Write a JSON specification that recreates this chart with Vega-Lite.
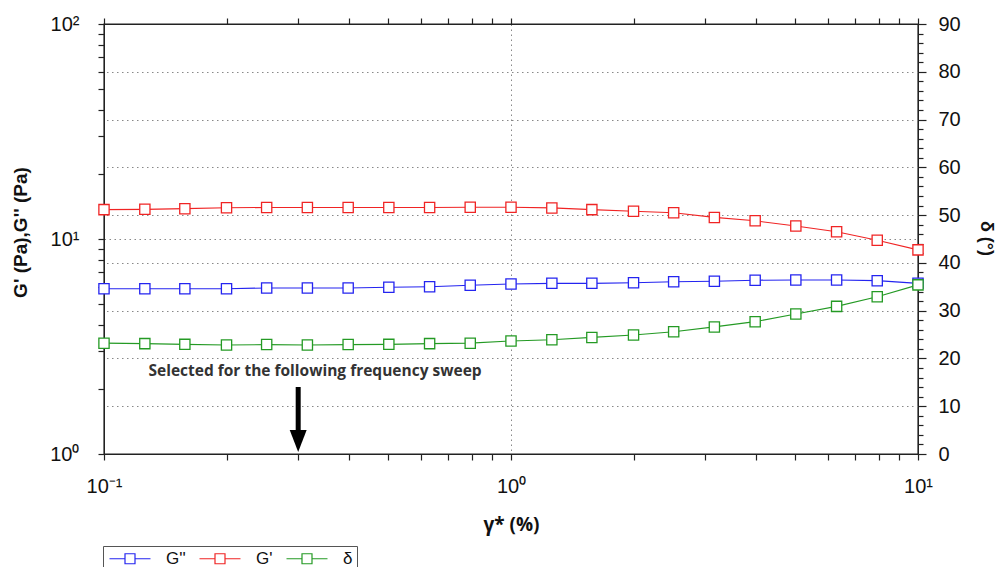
{
  "$schema": "https://vega.github.io/schema/vega-lite/v6.json",
  "width": 814,
  "height": 430,
  "autosize": {"type": "none"},
  "padding": {"left": 104, "top": 24, "right": 78, "bottom": 113},
  "background": "white",
  "config": {
    "view": {"stroke": "#222", "strokeWidth": 1.4},
    "axis": {
      "domainColor": "#222",
      "tickColor": "#222",
      "tickWidth": 1.2,
      "gridColor": "#888",
      "gridDash": [1.5, 3.5],
      "gridWidth": 1,
      "labelFont": "Liberation Sans",
      "labelFontSize": 20,
      "labelColor": "#111",
      "titleColor": "#111"
    }
  },
  "datasets": {
    "curves": [
      {"x": 0.1, "series": "G''", "value": 5.87},
      {"x": 0.126, "series": "G''", "value": 5.87},
      {"x": 0.158, "series": "G''", "value": 5.87},
      {"x": 0.2, "series": "G''", "value": 5.87},
      {"x": 0.251, "series": "G''", "value": 5.92},
      {"x": 0.316, "series": "G''", "value": 5.92},
      {"x": 0.398, "series": "G''", "value": 5.92},
      {"x": 0.501, "series": "G''", "value": 5.96},
      {"x": 0.631, "series": "G''", "value": 6.0},
      {"x": 0.794, "series": "G''", "value": 6.09},
      {"x": 1, "series": "G''", "value": 6.18},
      {"x": 1.26, "series": "G''", "value": 6.22},
      {"x": 1.58, "series": "G''", "value": 6.22},
      {"x": 2, "series": "G''", "value": 6.26},
      {"x": 2.51, "series": "G''", "value": 6.33},
      {"x": 3.16, "series": "G''", "value": 6.36},
      {"x": 3.98, "series": "G''", "value": 6.43},
      {"x": 5.01, "series": "G''", "value": 6.45},
      {"x": 6.31, "series": "G''", "value": 6.45},
      {"x": 7.94, "series": "G''", "value": 6.4},
      {"x": 10, "series": "G''", "value": 6.22},
      {"x": 0.1, "series": "G'", "value": 13.7},
      {"x": 0.126, "series": "G'", "value": 13.74},
      {"x": 0.158, "series": "G'", "value": 13.84},
      {"x": 0.2, "series": "G'", "value": 13.98},
      {"x": 0.251, "series": "G'", "value": 14.01},
      {"x": 0.316, "series": "G'", "value": 14.01},
      {"x": 0.398, "series": "G'", "value": 14.01},
      {"x": 0.501, "series": "G'", "value": 14.01},
      {"x": 0.631, "series": "G'", "value": 14.01},
      {"x": 0.794, "series": "G'", "value": 14.05},
      {"x": 1, "series": "G'", "value": 14.05},
      {"x": 1.26, "series": "G'", "value": 13.95},
      {"x": 1.58, "series": "G'", "value": 13.7},
      {"x": 2, "series": "G'", "value": 13.45},
      {"x": 2.51, "series": "G'", "value": 13.25},
      {"x": 3.16, "series": "G'", "value": 12.6},
      {"x": 3.98, "series": "G'", "value": 12.15},
      {"x": 5.01, "series": "G'", "value": 11.5},
      {"x": 6.31, "series": "G'", "value": 10.8},
      {"x": 7.94, "series": "G'", "value": 9.87},
      {"x": 10, "series": "G'", "value": 8.9},
      {"x": 0.1, "series": "δ", "value": 23.2},
      {"x": 0.126, "series": "δ", "value": 23.1},
      {"x": 0.158, "series": "δ", "value": 22.95},
      {"x": 0.2, "series": "δ", "value": 22.8},
      {"x": 0.251, "series": "δ", "value": 22.9},
      {"x": 0.316, "series": "δ", "value": 22.8},
      {"x": 0.398, "series": "δ", "value": 22.9},
      {"x": 0.501, "series": "δ", "value": 22.95},
      {"x": 0.631, "series": "δ", "value": 23.1},
      {"x": 0.794, "series": "δ", "value": 23.2},
      {"x": 1, "series": "δ", "value": 23.65},
      {"x": 1.26, "series": "δ", "value": 23.9},
      {"x": 1.58, "series": "δ", "value": 24.4},
      {"x": 2, "series": "δ", "value": 24.9},
      {"x": 2.51, "series": "δ", "value": 25.6},
      {"x": 3.16, "series": "δ", "value": 26.6},
      {"x": 3.98, "series": "δ", "value": 27.7},
      {"x": 5.01, "series": "δ", "value": 29.3},
      {"x": 6.31, "series": "δ", "value": 30.9},
      {"x": 7.94, "series": "δ", "value": 32.9},
      {"x": 10, "series": "δ", "value": 35.4}
    ],
    "arrow": [{"x": 0.3, "top": 2.05, "bottom": 1.24, "head": 1.15}],
    "note": [{"x": 0.33, "y": 2.42, "text": "Selected for the following frequency sweep"}]
  },
  "layer": [
    {
      "data": {"name": "curves"},
      "transform": [{"filter": {"field": "series", "oneOf": ["G''", "G'"]}}],
      "mark": {
        "type": "line",
        "strokeWidth": 1.1,
        "point": {"shape": "square", "filled": false, "fill": "white", "size": 105, "strokeWidth": 1.3}
      },
      "encoding": {
        "x": {
          "field": "x", "type": "quantitative",
          "scale": {"type": "log", "domain": [0.1, 10], "nice": false},
          "axis": {
            "orient": "bottom",
            "values": [0.1, 0.2, 0.3, 0.4, 0.5, 0.6, 0.7, 0.8, 0.9, 1, 2, 3, 4, 5, 6, 7, 8, 9, 10],
            "labelExpr": "datum.value == 0.1 ? '10⁻¹' : datum.value == 1 ? '10⁰' : datum.value == 10 ? '10¹' : ''",
            "labelFlush": false,
            "labelOverlap": false,
            "labelPadding": 16,
            "ticks": true,
            "tickSize": 6,
            "grid": true,
            "gridOpacity": {"condition": {"test": "datum.value == 1", "value": 1}, "value": 0},
            "title": "γ* (%)",
            "titleFont": "Open Sans",
            "titleFontWeight": "bold",
            "titleFontSize": 19,
            "titleX": 407,
            "titleY": 70,
            "titleBaseline": "middle"
          }
        },
        "y": {
          "field": "value", "type": "quantitative",
          "scale": {"type": "log", "domain": [1, 100], "nice": false},
          "axis": {
            "orient": "left",
            "values": [1, 2, 3, 4, 5, 6, 7, 8, 9, 10, 20, 30, 40, 50, 60, 70, 80, 90, 100],
            "labelExpr": "datum.value == 1 ? '10⁰' : datum.value == 10 ? '10¹' : datum.value == 100 ? '10²' : ''",
            "labelOverlap": false,
            "labelPadding": 19,
            "ticks": true,
            "tickSize": 6,
            "grid": true,
            "gridOpacity": {"condition": {"test": "datum.value == 10", "value": 1}, "value": 0},
            "title": "G' (Pa),G'' (Pa)",
            "titleFont": "Liberation Sans",
            "titleFontWeight": "bold",
            "titleFontSize": 19,
            "titleX": -84,
            "titleY": 208,
            "titleAngle": -90,
            "titleAlign": "center",
            "titleBaseline": "middle"
          }
        },
        "color": {
          "field": "series", "type": "nominal",
          "scale": {"domain": ["G''", "G'", "δ"], "range": ["#2424f0", "#f02424", "#249a24"]},
          "legend": {
            "orient": "none",
            "legendX": -1,
            "legendY": 522,
            "direction": "horizontal",
            "title": null,
            "symbolType": "M-1,0H1.583M3.25,0H5.833M1.583,-0.833H3.25V0.833H1.583Z",
            "symbolSize": 144,
            "symbolStrokeWidth": 1.2,
            "symbolFillColor": "white",
            "labelFont": "Liberation Sans",
            "labelFontSize": 17,
            "labelColor": "#111",
            "labelOffset": 42,
            "columnPadding": 11,
            "padding": 4,
            "strokeColor": "#555",
            "fillColor": "white"
          }
        }
      }
    },
    {
      "data": {"name": "curves"},
      "transform": [{"filter": {"field": "series", "oneOf": ["δ"]}}],
      "mark": {
        "type": "line",
        "strokeWidth": 1.1,
        "point": {"shape": "square", "filled": false, "fill": "white", "size": 105, "strokeWidth": 1.3}
      },
      "encoding": {
        "x": {
          "field": "x", "type": "quantitative",
          "scale": {"type": "log", "domain": [0.1, 10], "nice": false},
          "axis": {
            "orient": "top",
            "values": [0.1, 0.2, 0.3, 0.4, 0.5, 0.6, 0.7, 0.8, 0.9, 1, 2, 3, 4, 5, 6, 7, 8, 9, 10],
            "labels": false,
            "domain": true,
            "grid": false,
            "title": null,
            "ticks": true,
            "tickSize": 6
          }
        },
        "y": {
          "field": "value", "type": "quantitative",
          "scale": {"domain": [0, 90], "nice": false},
          "axis": {
            "orient": "right",
            "values": [0, 2, 4, 6, 8, 10, 12, 14, 16, 18, 20, 22, 24, 26, 28, 30, 32, 34, 36, 38, 40, 42, 44, 46, 48, 50, 52, 54, 56, 58, 60, 62, 64, 66, 68, 70, 72, 74, 76, 78, 80, 82, 84, 86, 88, 90],
            "labelExpr": "datum.value % 10 == 0 ? datum.label : ''",
            "labelOverlap": false,
            "labelPadding": 12,
            "tickSize": {"condition": {"test": "datum.value % 10 == 0", "value": 8}, "value": 5},
            "grid": true,
            "gridOpacity": {"condition": {"test": "datum.value % 10 == 0 && datum.value > 0 && datum.value < 90", "value": 1}, "value": 0},
            "title": "δ (°)",
            "titleFont": "Liberation Sans",
            "titleFontWeight": "bold",
            "titleFontSize": 18,
            "titleX": 67,
            "titleY": 214,
            "titleAngle": 90,
            "titleAlign": "center",
            "titleBaseline": "middle"
          }
        },
        "color": {"field": "series", "type": "nominal", "scale": {"domain": ["G''", "G'", "δ"], "range": ["#2424f0", "#f02424", "#249a24"]}}
      }
    },
    {
      "data": {"name": "arrow"},
      "mark": {"type": "rule", "strokeWidth": 5, "color": "black"},
      "encoding": {
        "x": {"field": "x", "type": "quantitative", "scale": {"type": "log", "domain": [0.1, 10], "nice": false}, "axis": null},
        "y": {"field": "top", "type": "quantitative", "scale": {"type": "log", "domain": [1, 100], "nice": false}, "axis": null},
        "y2": {"field": "bottom"}
      }
    },
    {
      "data": {"name": "arrow"},
      "mark": {"type": "point", "shape": "M-0.77,-1L0.77,-1L0,1Z", "size": 484, "filled": true, "color": "black", "opacity": 1},
      "encoding": {
        "x": {"field": "x", "type": "quantitative", "scale": {"type": "log", "domain": [0.1, 10], "nice": false}, "axis": null},
        "y": {"field": "head", "type": "quantitative", "scale": {"type": "log", "domain": [1, 100], "nice": false}, "axis": null}
      }
    },
    {
      "data": {"name": "note"},
      "mark": {"type": "text", "font": "Open Sans", "fontWeight": "bold", "fontSize": 15.5, "color": "#333", "align": "center", "baseline": "middle"},
      "encoding": {
        "x": {"field": "x", "type": "quantitative", "scale": {"type": "log", "domain": [0.1, 10], "nice": false}, "axis": null},
        "y": {"field": "y", "type": "quantitative", "scale": {"type": "log", "domain": [1, 100], "nice": false}, "axis": null},
        "text": {"field": "text"}
      }
    }
  ],
  "resolve": {"scale": {"y": "independent"}, "axis": {"y": "independent", "x": "independent"}}
}
